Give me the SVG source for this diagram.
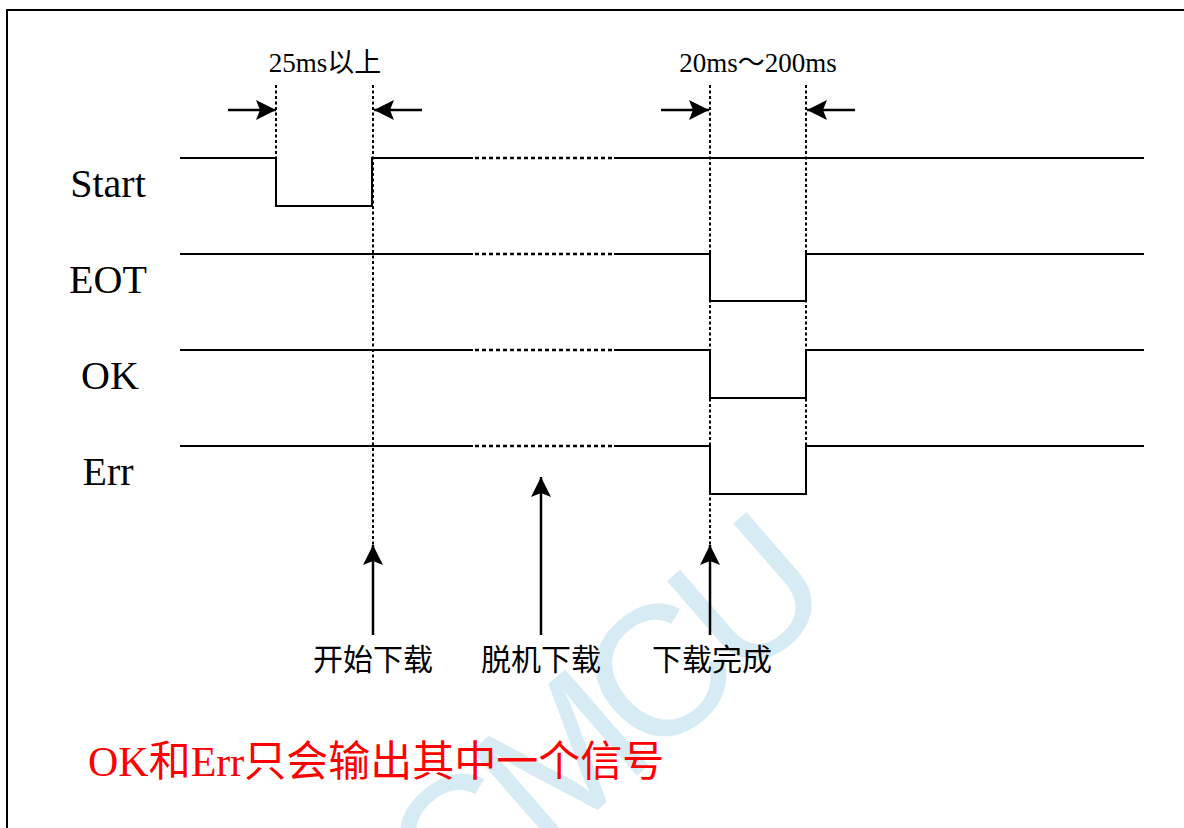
<svg xmlns="http://www.w3.org/2000/svg" width="1184" height="828" viewBox="0 0 1184 828">
<style>
.sig{fill:none;stroke:#000;stroke-width:2}
.dotted{fill:none;stroke:#000;stroke-width:2.5;stroke-dasharray:4 3}
.guide{fill:none;stroke:#000;stroke-width:2;stroke-dasharray:3 2.5}
.arr{fill:none;stroke:#000;stroke-width:2.5;marker-end:url(#ah)}
.lbl{font-family:"Liberation Serif","Noto Sans CJK SC",serif;font-size:40px;fill:#000;text-anchor:middle}
.dim{font-family:"Liberation Serif","Noto Sans CJK SC",serif;font-size:27px;fill:#000;text-anchor:middle}
.cap{font-family:"Noto Sans CJK SC",sans-serif;font-size:30px;fill:#000;text-anchor:middle}
.note{font-family:"Liberation Serif","Noto Sans CJK SC",serif;font-size:42px;fill:#ff0000}
.wm{font-family:"Liberation Sans",Arial,sans-serif;font-size:185px;fill:#d6ebf3;letter-spacing:-14px}
</style>
<defs>
<marker id="ah" viewBox="0 0 20 20" refX="20" refY="10" markerWidth="20" markerHeight="20" markerUnits="userSpaceOnUse" orient="auto">
<path d="M0,0 L20,10 L0,20 L4,10 z" fill="#000"/>
</marker>
</defs>
<rect x="0" y="0" width="1184" height="828" fill="#fff"/>
<g id="watermark">
<text class="wm" transform="translate(830,608) rotate(-41)" text-anchor="end">STCMCU</text>
</g>
<rect id="frame" x="7" y="10" width="1300" height="900" fill="none" stroke="#000" stroke-width="2"/>
<g id="signal-start">
<text class="lbl" x="108" y="197">Start</text>
<polyline class="sig" points="180,158 276,158 276,206 372,206 372,158 473,158"/>
<line class="dotted" x1="475" y1="158" x2="613" y2="158"/>
<line class="sig" x1="614" y1="158" x2="1144" y2="158"/>
</g>
<g id="signal-eot">
<text class="lbl" x="108" y="293">EOT</text>
<line class="sig" x1="180" y1="254" x2="473" y2="254"/>
<line class="dotted" x1="475" y1="254" x2="613" y2="254"/>
<polyline class="sig" points="614,254 710,254 710,301 806,301 806,254 1144,254"/>
</g>
<g id="signal-ok">
<text class="lbl" x="110" y="389">OK</text>
<line class="sig" x1="180" y1="350" x2="473" y2="350"/>
<line class="dotted" x1="475" y1="350" x2="613" y2="350"/>
<polyline class="sig" points="614,350 710,350 710,398 806,398 806,350 1144,350"/>
</g>
<g id="signal-err">
<text class="lbl" x="108" y="485">Err</text>
<line class="sig" x1="180" y1="446" x2="473" y2="446"/>
<line class="dotted" x1="475" y1="446" x2="613" y2="446"/>
<polyline class="sig" points="614,446 710,446 710,494 806,494 806,446 1144,446"/>
</g>
<g id="label-25ms">
<text class="dim" x="325" y="72">25ms以上</text>
</g>
<g id="label-20ms">
<text class="dim" x="758" y="72">20ms～200ms</text>
</g>
<g id="label-start-dl">
<text class="cap" x="373" y="670">开始下载</text>
</g>
<g id="label-offline">
<text class="cap" x="541" y="670">脱机下载</text>
</g>
<g id="label-done">
<text class="cap" x="712" y="670">下载完成</text>
</g>
<g id="note">
<text class="note" x="88" y="776">OK和Err只会输出其中一个信号</text>
</g>
<g id="connectors">
<line class="guide" x1="276" y1="85" x2="276" y2="158"/>
<line class="guide" x1="373" y1="85" x2="373" y2="545"/>
<line class="guide" x1="710" y1="85" x2="710" y2="545"/>
<line class="guide" x1="806" y1="85" x2="806" y2="494"/>
<line class="arr" x1="228" y1="110" x2="276" y2="110"/>
<line class="arr" x1="422" y1="110" x2="374" y2="110"/>
<line class="arr" x1="661" y1="110" x2="709" y2="110"/>
<line class="arr" x1="855" y1="110" x2="807" y2="110"/>
<line class="arr" x1="373" y1="635" x2="373" y2="545"/>
<line class="arr" x1="541" y1="635" x2="541" y2="477"/>
<line class="arr" x1="710" y1="635" x2="710" y2="545"/>
</g>
</svg>
